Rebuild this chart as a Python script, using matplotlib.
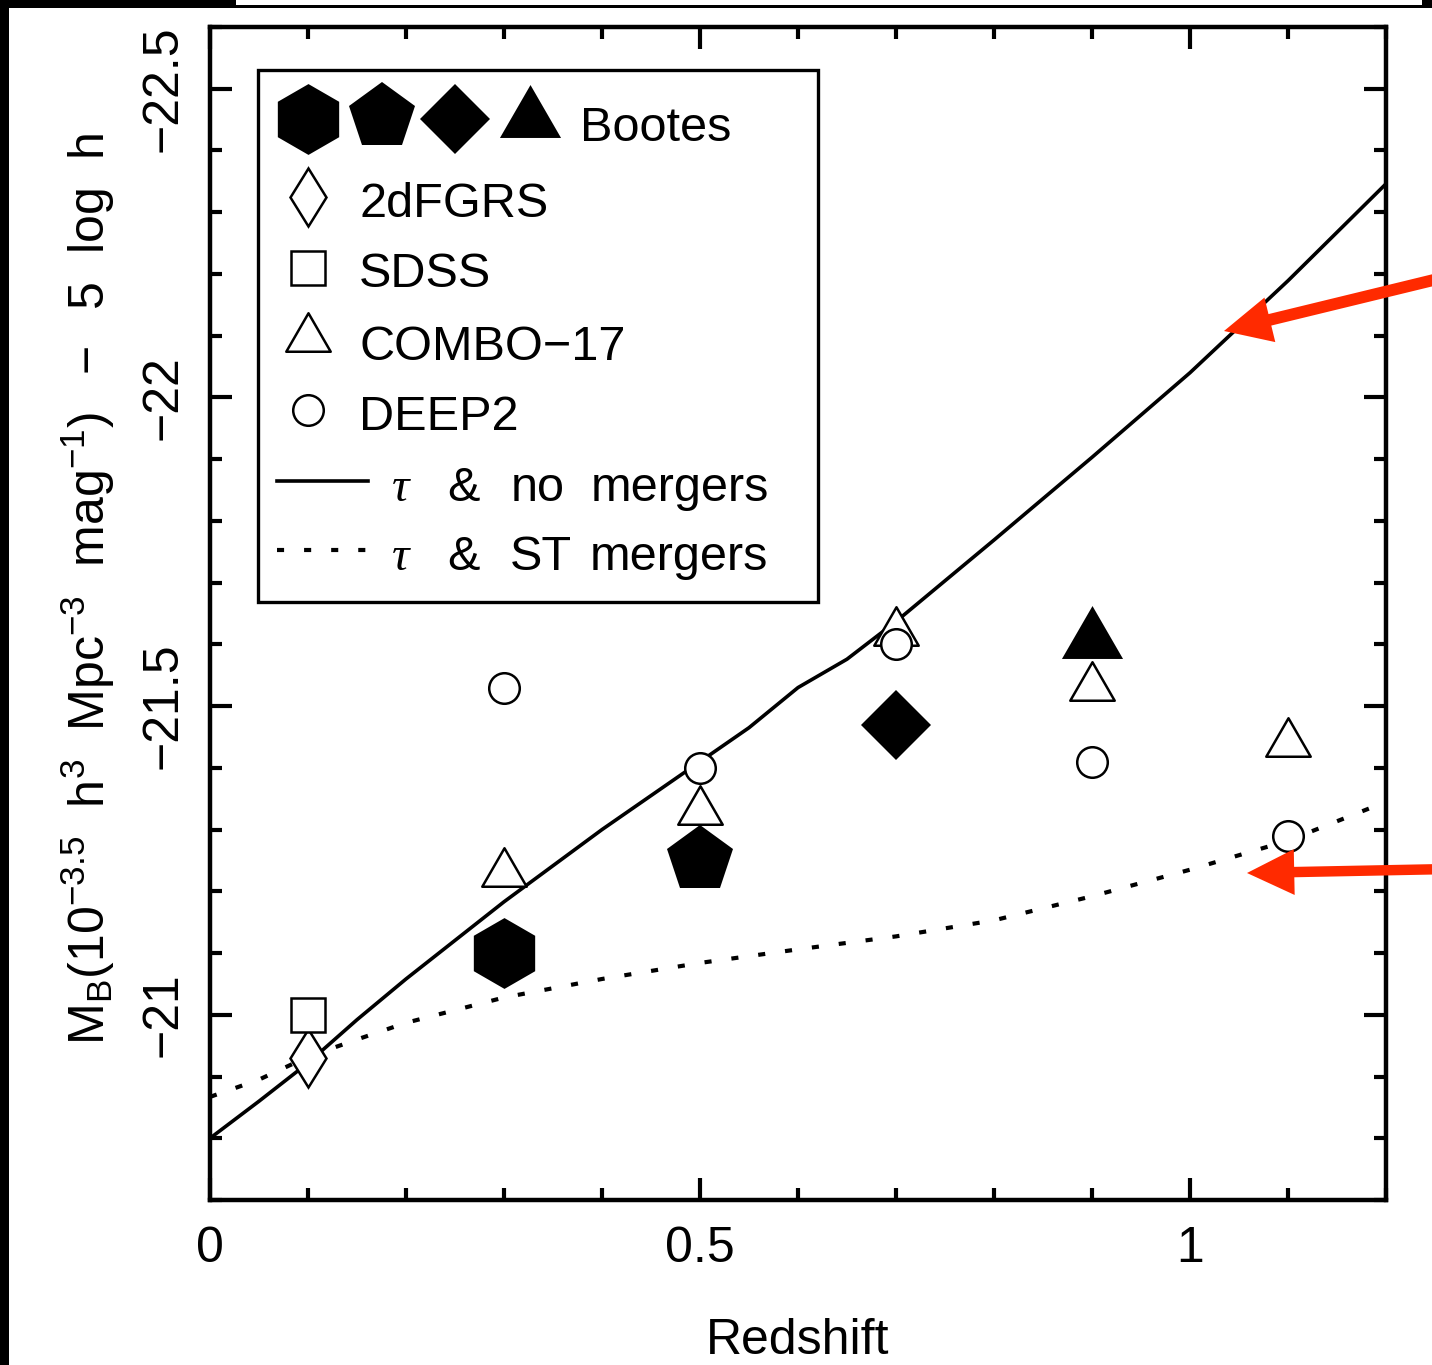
import matplotlib
matplotlib.use("Agg")
import matplotlib.pyplot as plt
from matplotlib.patches import Rectangle, FancyArrowPatch, ArrowStyle
from matplotlib.path import Path
from matplotlib.ticker import FixedLocator, MultipleLocator

plt.rcParams['font.family'] = ['Liberation Sans', 'DejaVu Sans']
plt.rcParams['mathtext.fontset'] = 'custom'
plt.rcParams['mathtext.rm'] = 'Liberation Sans'
plt.rcParams['mathtext.it'] = 'Liberation Sans:italic'
plt.rcParams['mathtext.bf'] = 'Liberation Sans:bold'

# --- data ---
# Bootes (filled symbols, one shape per redshift bin)
z_bootes = [0.3, 0.5, 0.7, 0.9]
mb_bootes = [-21.10, -21.25, -21.47, -21.62]

z_2df = [0.1]
mb_2df = [-20.93]

z_sdss = [0.1]
mb_sdss = [-21.00]

z_combo = [0.3, 0.5, 0.7, 0.9, 1.1]
mb_combo = [-21.24, -21.34, -21.63, -21.54, -21.45]

z_deep2 = [0.3, 0.5, 0.7, 0.9, 1.1]
mb_deep2 = [-21.53, -21.40, -21.60, -21.41, -21.29]

# model: tau & no mergers
z_nomerge = [0.0, 0.05, 0.1, 0.15, 0.2, 0.3, 0.4, 0.5, 0.55, 0.6, 0.65, 0.7, 0.8, 0.9, 1.0, 1.1, 1.2]
mb_nomerge = [-20.80, -20.86, -20.922, -20.992, -21.058, -21.183, -21.30, -21.41, -21.465, -21.53,
              -21.576, -21.637, -21.769, -21.903, -22.04, -22.189, -22.346]

# model: tau & ST mergers
z_stmerge = [0.0, 0.05, 0.1, 0.15, 0.2, 0.3, 0.4, 0.5, 0.6, 0.7, 0.8, 0.9, 1.0, 1.1, 1.2]
mb_stmerge = [-20.867, -20.895, -20.932, -20.96, -20.987, -21.028, -21.058, -21.084, -21.106,
              -21.127, -21.153, -21.192, -21.235, -21.282, -21.345]

xticks = [0, 0.5, 1]
xticklabels = ['0', '0.5', '1']
yticks = [-22.5, -22, -21.5, -21]
yticklabels = ['\u221222.5', '\u221222', '\u221221.5', '\u221221']

W, H, DPI = 1432, 1365, 100
fig = plt.figure(figsize=(W / DPI, H / DPI), dpi=DPI)
ax = fig.add_axes([210 / W, (H - 1200) / H, 1176 / W, 1173 / H])

tri = Path([(-1, -0.866), (1, -0.866), (0, 0.866), (-1, -0.866)], closed=True)
bootes_mk = ['h', 'p', 'D', tri]
bootes_ms = [51, 50, 36, 44]
open_kw = dict(ls='none', mfc='white', mec='black', mew=1.8)
dots = (0, (1.7, 4.8))

# model curves
ax.plot(z_nomerge, mb_nomerge, color='black', lw=2.6)
ax.plot(z_stmerge, mb_stmerge, color='black', lw=3.0, ls=dots)

# data points
ax.plot(z_2df, mb_2df, marker='d', ms=30, **open_kw)
ax.plot(z_sdss, mb_sdss, marker='s', ms=25, **open_kw)
ax.plot(z_combo, mb_combo, marker=tri, ms=32, **open_kw)
ax.plot(z_deep2, mb_deep2, marker='o', ms=22, **open_kw)
for z, m, mk, ms in zip(z_bootes, mb_bootes, bootes_mk, bootes_ms):
    ax.plot([z], [m], marker=mk, ms=ms, color='black', mew=0, ls='none')

ax.set_xlim(0, 1.2)
ax.set_ylim(-20.7, -22.6)

ax.xaxis.set_major_locator(FixedLocator(xticks))
ax.xaxis.set_minor_locator(MultipleLocator(0.1))
ax.yaxis.set_major_locator(FixedLocator(yticks))
ax.yaxis.set_minor_locator(MultipleLocator(0.1))
ax.set_xticklabels(xticklabels)
ax.set_yticklabels(yticklabels, rotation=90, va='center')
ax.tick_params(which='both', direction='in', top=True, right=True, width=3, labelsize=36)
ax.tick_params(which='major', length=16)
ax.tick_params(which='minor', length=8.5)
ax.tick_params(axis='x', pad=19)
ax.tick_params(axis='y', pad=17)
for s in ax.spines.values():
    s.set_linewidth(3.2)

fig.text(798 / W, 1 - 1354 / H, 'Redshift', ha='center', va='baseline', fontsize=36)
fig.text(88 / W, 1 - 589 / H,
         r'$\mathrm{M_B(10^{-3.5}\ \ h^3\ \ Mpc^{-3}\ \ mag^{-1})\ \ -\ \ 5\ \ log\ \ h}$',
         ha='center', va='center', rotation=90, fontsize=36)


# --- legend drawn by hand (two text columns in the original) ---
def lg(px, py):
    return ((px - 210) / 1176, (1200 - py) / 1173)


x0, y0 = lg(258, 602)
x1, y1 = lg(818, 70)
ax.add_patch(Rectangle((x0, y0), x1 - x0, y1 - y0, transform=ax.transAxes,
                       fc='white', ec='black', lw=2.4, zorder=5))
lk = dict(transform=ax.transAxes, clip_on=False, zorder=6)
for (px, py), mk, ms in zip([(308, 119), (382, 117), (455, 119), (530, 111)], bootes_mk, bootes_ms):
    ax.plot(*lg(px, py), marker=mk, ms=ms, color='black', mew=0, ls='none', **lk)
ax.plot(*lg(308, 197), marker='d', ms=30, **open_kw, **lk)
ax.plot(*lg(308, 268), marker='s', ms=25, **open_kw, **lk)
ax.plot(*lg(308, 332), marker=tri, ms=32, **open_kw, **lk)
ax.plot(*lg(308, 410), marker='o', ms=22, **open_kw, **lk)
xa, ya = lg(277, 481)
xb, _ = lg(368, 481)
ax.plot([xa, xb], [ya, ya], color='black', lw=2.6, **lk)
xa, ya = lg(277, 550)
ax.plot([xa, xb], [ya, ya], color='black', lw=3.0, ls=dots, **lk)

tk = dict(transform=ax.transAxes, fontsize=35, va='baseline', ha='left', zorder=7)
ax.text(*lg(580, 141), 'Bootes', **tk)
ax.text(*lg(359, 217), '2dFGRS', **tk)
ax.text(*lg(359, 287), 'SDSS', **tk)
ax.text(*lg(359, 360), 'COMBO\u221217', **tk)
ax.text(*lg(359, 430), 'DEEP2', **tk)
for py, words in [(501, [(447, '&'), (511, 'no'), (591, 'mergers')]),
                  (570, [(447, '&'), (510, 'ST'), (590, 'mergers')])]:
    ax.text(*lg(392, py), '\u03c4', transform=ax.transAxes, fontsize=35, va='baseline',
            ha='left', family='Liberation Serif', style='italic', zorder=7)
    for px, w in words:
        ax.text(*lg(px, py), w, **tk)

# --- red annotation arrows and screenshot frame ---
red = '#ff2a00'
for (xa, ya), (xb, yb), tw in [((1450, 276), (1224, 331), 8.5), ((1450, 869), (1247, 873), 7.5)]:
    arr = FancyArrowPatch((xa / W, 1 - ya / H), (xb / W, 1 - yb / H), transform=fig.transFigure,
                          arrowstyle=ArrowStyle.Simple(head_length=34, head_width=33, tail_width=tw),
                          mutation_scale=1, shrinkA=0, shrinkB=0, color=red, lw=0, zorder=10)
    fig.add_artist(arr)

fig.add_artist(Rectangle((0, 0), 9 / W, 1, transform=fig.transFigure, fc='black', ec='none'))
fig.add_artist(Rectangle((0, 1 - 8 / H), 236 / W, 8 / H, transform=fig.transFigure, fc='black', ec='none'))
fig.add_artist(Rectangle((0, 1 - 8 / H), 1, 3 / H, transform=fig.transFigure, fc='black', ec='none'))
fig.add_artist(Rectangle((1422 / W, 1 - 8 / H), 10 / W, 8 / H, transform=fig.transFigure, fc='black', ec='none'))

fig.savefig('out.png', dpi=DPI)
